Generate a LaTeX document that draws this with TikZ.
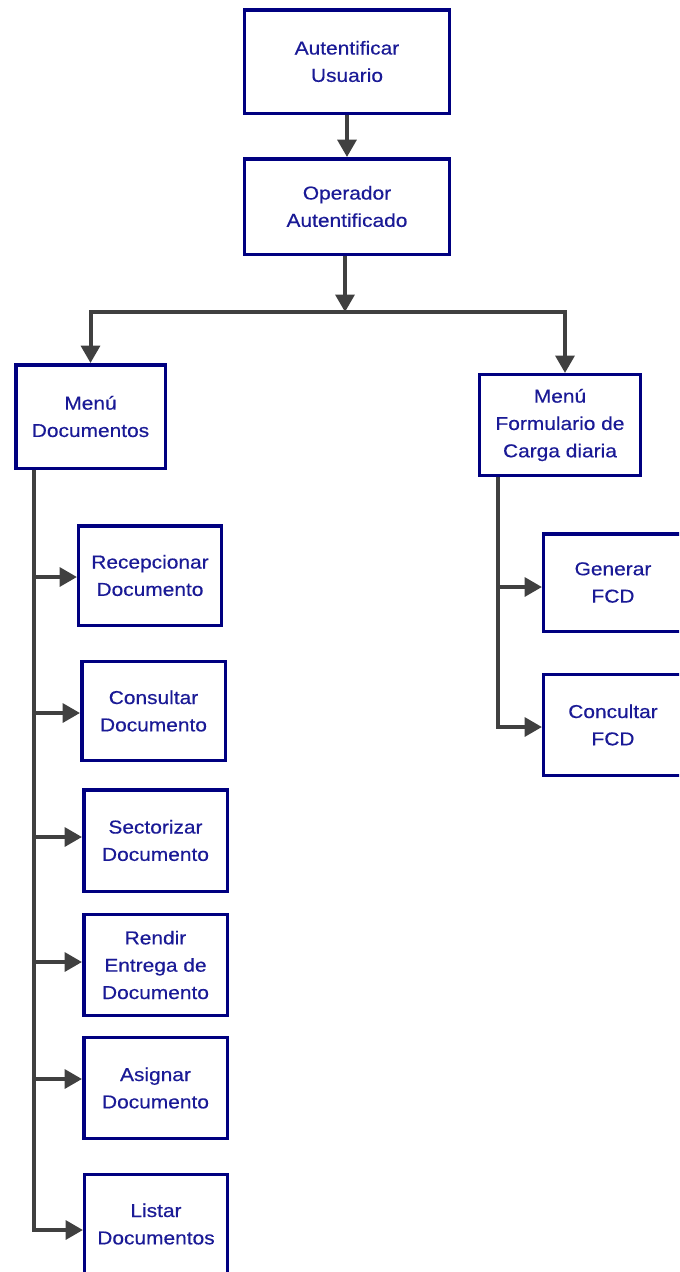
\documentclass[tikz,border=0pt]{standalone}
\usepackage{fontspec}
\setmainfont{Liberation Sans}[FakeStretch=1.12,FakeBold=0.4]
\usetikzlibrary{arrows.meta,calc}
\definecolor{boxline}{HTML}{000080}
\definecolor{boxtext}{HTML}{1A1A96}
\definecolor{wire}{HTML}{404040}
\begin{document}
\begin{tikzpicture}[x=0.75pt,y=-0.75pt,
  box/.style={draw=boxline, line width=2.6pt, fill=white, text=boxtext,
    align=center, inner sep=0pt, font=\fontsize{14}{20.5}\selectfont},
  sz/.style 2 args={minimum width=#1pt, minimum height=#2pt},
  wireline/.style={draw=wire, line width=3pt},
  arr/.style={wireline, -{Triangle[length=13pt,width=14pt]}},
]
\useasboundingbox (0,0) rectangle (679,1272);
\clip (0,0) rectangle (679,1272);

% upper chain
\node[box, sz={153.4}{77.6}] (A) at (347,61.5) {Autentificar\\Usuario};
\node[box, sz={153.4}{71.6}] (B) at (347,206.5) {Operador\\Autentificado};

% the two menus
\node[box, sz={112.1}{77.6}] (C) at (90.5,416.5) {Menú\\Documentos};
\node[box, sz={120.4}{75.4}] (D) at (560,425) {Menú\\Formulario de\\Carga diaria};

% document options
\node[box, sz={106.9}{74.6}] (E1) at (150,575.5) {Recepcionar\\Documento};
\node[box, sz={107.6}{73.9}] (E2) at (153.5,711) {Consultar\\Documento};
\node[box, sz={107.6}{76.1}] (E3) at (155.5,840.5) {Sectorizar\\Documento};
\node[box, sz={107.6}{75.4}] (E4) at (155.5,965) {Rendir\\Entrega de\\Documento};
\node[box, sz={107.6}{75.4}] (E5) at (155.5,1088) {Asignar\\Documento};
\node[box, sz={106.9}{73.9}] (E6) at (156,1224) {Listar\\Documentos};

% daily load form options
\node[box, sz={103.9}{73.1}] (F1) at (613,582.5) {Generar\\FCD};
\node[box, sz={103.9}{75.4}] (F2) at (613,725) {Concultar\\FCD};

% connectors between the top boxes
\coordinate (split) at (345,312);
\coordinate (Din) at ($(D.north)+(5,0)$);
\draw[arr] (A.south) -- (B.north);
\draw[arr] ([xshift=-1.5pt]B.south) -- (split);
\draw[arr] (split) -| (C.north);
\draw[arr] (split) -| (Din);

% left trunk and branches
\coordinate (tl) at (34,470);
\coordinate (e1) at ($(E1.west)+(0,1.5)$);
\coordinate (e2) at ($(E2.west)+(0,2)$);
\coordinate (e3) at ($(E3.west)+(0,-3.5)$);
\coordinate (e4) at ($(E4.west)+(0,-3)$);
\coordinate (e5) at ($(E5.west)+(0,-9)$);
\coordinate (e6) at ($(E6.west)+(0,6)$);
\draw[arr] (tl) |- (e6);
\foreach \t in {e1,e2,e3,e4,e5}
  \draw[arr] (tl |- \t) -- (\t);

% right trunk and branches
\coordinate (tr) at (498,477);
\coordinate (f1) at ($(F1.west)+(0,4.5)$);
\coordinate (f2) at ($(F2.west)+(0,2)$);
\draw[arr] (tr) |- (f2);
\draw[arr] (tr |- f1) -- (f1);
\end{tikzpicture}
\end{document}
